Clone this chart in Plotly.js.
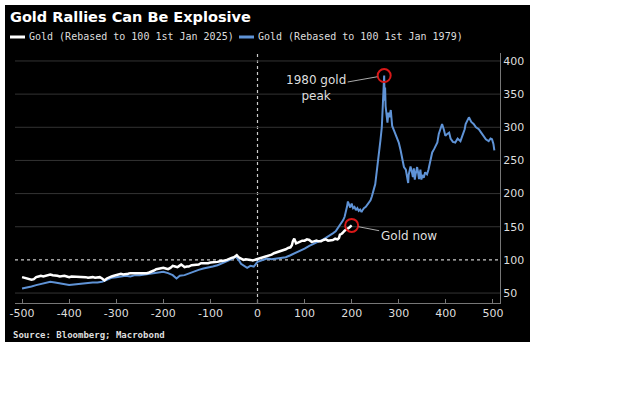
<!DOCTYPE html>
<html>
<head>
<meta charset="utf-8">
<script src="https://cdn.plot.ly/plotly-3.0.1.min.js"></script>
<style>html,body{margin:0;padding:0;background:#fff;}#chart{width:624px;height:398px;}</style>
</head>
<body>
<div id="chart"></div>
<script>
// ---- data (days from rebase date, rebased gold price) ----
const gold2025Days = [-500,-495,-490,-485,-480,-475,-470,-465,-460,-455,-450,-445,-440,-435,-430,-425,-420,-415,-410,-405,-400,-395,-390,-385,-380,-375,-370,-365,-360,-355,-350,-345,-340,-335,-330,-325,-320,-315,-310,-305,-300,-295,-290,-285,-280,-275,-270,-265,-260,-255,-250,-245,-240,-235,-230,-225,-220,-215,-210,-205,-200,-195,-190,-185,-180,-175,-170,-166,-162,-158,-155,-150,-146,-140,-135,-130,-125,-120,-115,-110,-105,-100,-95,-90,-85,-80,-75,-70,-65,-60,-55,-50,-47,-44,-40,-35,-30,-25,-20,-15,-10,-5,0,5,10,15,20,25,30,35,40,45,50,55,60,65,70,73,75,78,80,82,86,90,95,100,105,110,115,120,125,130,135,140,145,150,155,160,165,170,173,175,178,180,185,190,195,200];
const gold2025Values = [74,73,72,70,70,71,74,75,76,75,76,77,78,77,77,76,75,76,76,75,74,75,75,74,74,75,75,74,73,74,74,73,73,74,72,69,72,74,75,76,77,78,79,78,78,79,80,80,79,79,80,80,79,80,81,82,84,86,87,88,88,87,86,88,91,90,89,91,93,91,89,90,90,92,92,93,93,95,95,94,95,96,96,97,97,98,98,99,100,102,103,104,106,107,104,102,100,101,101,100,99,100,101,102,103,104,106,107,108,110,111,112,113,115,116,118,119,122,128,132,127,125,126,127,129,129,131,130,127,128,129,128,128,130,131,129,129,130,132,131,133,138,139,140,144,146,149,152];

const gold1979Days = [-500,-490,-480,-470,-460,-450,-440,-430,-420,-410,-400,-390,-380,-370,-360,-350,-340,-330,-320,-310,-300,-290,-280,-270,-260,-250,-240,-230,-220,-210,-200,-190,-180,-172,-165,-155,-145,-135,-125,-115,-105,-95,-85,-75,-65,-55,-47,-40,-35,-28,-22,-15,-8,0,10,20,30,40,50,60,70,80,90,100,110,120,130,140,150,160,166,170,174,178,182,185,188,190,192,194,197,200,203,206,209,212,215,218,221,223,226,230,233,236,240,243,245,248,250,252,255,258,261,264,266,268,269,270,271,272,274,276,278,280,283,286,290,294,297,300,304,308,311,315,318,320,321,323,325,328,330,332,334,336,339,341,343,346,348,350,353,356,360,363,367,371,375,379,382,385,388,392,396,399,403,407,410,415,420,425,431,436,440,442,445,449,454,459,464,470,475,480,485,491,495,498,501,503];
const gold1979Values = [57,58,60,62,64,66,67,66,65,64,62,63,64,65,65,66,66,67,70,73,74,75,76,75,77,77,78,79,80,81,82,80,77,72,76,77,80,83,85,87,88,90,92,95,98,101,105,100,94,90,88,91,90,97,100,102,101,102,103,104,107,110,113,117,121,125,128,131,135,140,143,147,152,155,160,165,172,180,188,184,179,185,178,180,175,178,174,176,172,175,178,180,183,186,190,196,203,209,214,225,240,262,280,300,327,355,378,340,360,332,318,307,322,315,326,302,295,287,280,277,265,251,240,236,225,216,228,236,241,232,225,238,221,230,240,232,222,236,221,228,224,232,229,236,250,262,267,274,277,290,298,305,296,287,290,292,283,278,277,283,279,288,297,305,310,315,308,305,300,297,292,287,282,279,283,282,275,265,252,257];

const xTickVals = [-500,-400,-300,-200,-100,0,100,200,300,400,500];
const xTickText = ['-500','-400','-300','-200','-100','0','100','200','300','400','500'];
const yTickVals = [50,100,150,200,250,300,350,400];
const yTickText = ['50','100','150','200','250','300','350','400'];

const peakPoint = {day: 269, value: 378, label: '1980 gold<br>peak'};
const nowPoint = {day: 200, value: 152, label: 'Gold now'};

const titleText = 'Gold Rallies Can Be Explosive';
const legendNames = ['Gold (Rebased to 100 1st Jan 2025)', 'Gold (Rebased to 100 1st Jan 1979)'];
const sourceText = 'Source: Bloomberg; Macrobond';

// ---- layout geometry (pixels) ----
const W = 624, H = 398;
const M = {l: 15, r: 124, t: 53, b: 95};
const PW = W - M.l - M.r, PH = H - M.t - M.b;
const px = v => (v - M.l) / PW;          // pixel x -> paper x
const py = v => (H - M.b - v) / PH;      // pixel y -> paper y

const BLUE = '#5f93d6';
const TXT = '#dedede';

const traces = [
  {x: gold1979Days, y: gold1979Values, type: 'scatter', mode: 'lines',
   line: {color: BLUE, width: 2}, hoverinfo: 'skip', showlegend: false},
  {x: gold2025Days, y: gold2025Values, type: 'scatter', mode: 'lines',
   line: {color: '#ffffff', width: 2.5}, hoverinfo: 'skip', showlegend: false},
  {x: [peakPoint.day, nowPoint.day], y: [peakPoint.value, nowPoint.value], type: 'scatter', mode: 'markers',
   marker: {symbol: 'circle-open', size: 13, color: '#d81818', line: {width: 2}}, hoverinfo: 'skip', showlegend: false}
];

const shapes = [
  {type: 'rect', xref: 'paper', yref: 'paper', x0: px(5), x1: px(530), y0: py(5), y1: py(342),
   fillcolor: '#000000', line: {width: 0}, layer: 'below'},
  {type: 'line', xref: 'x', yref: 'paper', x0: 0, x1: 0, y0: 0, y1: 1,
   line: {color: '#cccccc', width: 1.2, dash: 'dot'}, layer: 'below'},
  {type: 'line', xref: 'paper', yref: 'paper', x0: px(10), x1: px(25), y0: py(37), y1: py(37),
   line: {color: '#ffffff', width: 3}},
  {type: 'line', xref: 'paper', yref: 'paper', x0: px(239), x1: px(254), y0: py(37), y1: py(37),
   line: {color: BLUE, width: 3}}
];
yTickVals.forEach(v => {
  if (v === 100) {
    shapes.push({type: 'line', xref: 'paper', yref: 'y', x0: 0, x1: 1, y0: v, y1: v,
      line: {color: '#cccccc', width: 1.2, dash: 'dot'}, layer: 'below'});
  } else {
    shapes.push({type: 'line', xref: 'paper', yref: 'y', x0: 0, x1: 1, y0: v, y1: v,
      line: {color: '#333333', width: 1}, layer: 'below'});
  }
});

const annotations = [
  {xref: 'paper', yref: 'paper', x: px(27), y: py(37), xanchor: 'left', yanchor: 'middle', showarrow: false,
   text: legendNames[0], font: {family: 'DejaVu Sans Mono', size: 10, color: TXT}},
  {xref: 'paper', yref: 'paper', x: px(256), y: py(37), xanchor: 'left', yanchor: 'middle', showarrow: false,
   text: legendNames[1], font: {family: 'DejaVu Sans Mono', size: 10, color: TXT}},
  {xref: 'paper', yref: 'paper', x: px(11), y: py(335), xanchor: 'left', yanchor: 'middle', showarrow: false,
   text: '<b>' + sourceText + '</b>', font: {family: 'DejaVu Sans Mono', size: 9, color: TXT}},
  {x: peakPoint.day, y: peakPoint.value, text: peakPoint.label, showarrow: true, arrowhead: 0,
   arrowwidth: 1, arrowcolor: '#aaaaaa', ax: -68, ay: 12, standoff: 7, align: 'center',
   font: {family: 'DejaVu Sans', size: 12, color: TXT}},
  {x: nowPoint.day, y: nowPoint.value, text: nowPoint.label, showarrow: true, arrowhead: 0,
   arrowwidth: 1, arrowcolor: '#aaaaaa', ax: 57, ay: 11, standoff: 7,
   font: {family: 'DejaVu Sans', size: 12, color: TXT}}
];

const layout = {
  width: W, height: H,
  paper_bgcolor: '#ffffff', plot_bgcolor: 'rgba(0,0,0,0)',
  margin: M,
  showlegend: false,
  title: {text: '<b>' + titleText + '</b>', x: 10 / W, xanchor: 'left', xref: 'container',
          y: 1 - 17 / H, yanchor: 'middle', yref: 'container',
          font: {family: 'DejaVu Sans', size: 14.5, color: '#ffffff'}},
  xaxis: {range: [-515, 515], tickvals: xTickVals, ticktext: xTickText, showgrid: false, zeroline: false,
          showline: true, linecolor: '#777777', linewidth: 1, ticks: 'inside', ticklen: 4, tickcolor: '#777777',
          tickfont: {family: 'DejaVu Sans', size: 11, color: TXT}, fixedrange: true},
  yaxis: {range: [35, 412], side: 'right', tickvals: yTickVals, ticktext: yTickText, showgrid: false,
          zeroline: false, showline: true, linecolor: '#777777', linewidth: 1, ticks: '',
          tickfont: {family: 'DejaVu Sans', size: 11, color: TXT}, fixedrange: true},
  shapes: shapes,
  annotations: annotations
};

Plotly.newPlot('chart', traces, layout, {staticPlot: true, displayModeBar: false});
</script>
</body>
</html>
